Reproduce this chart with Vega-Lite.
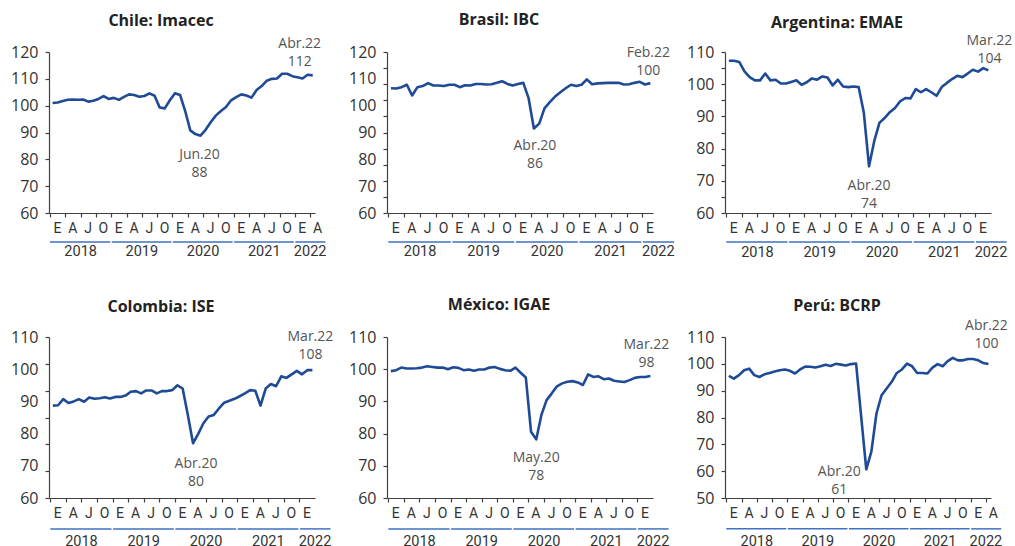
{
 "$schema": "https://vega.github.io/schema/vega-lite/v6.json",
 "padding": {"left": 10, "top": 12, "right": 0, "bottom": 0},
 "background": "white",
 "datasets": {
  "chile": [{"mes":0,"valor":101.0},{"mes":1,"valor":101.2},{"mes":2,"valor":101.7},{"mes":3,"valor":102.2},{"mes":4,"valor":102.3},{"mes":5,"valor":102.2},{"mes":6,"valor":102.3},{"mes":7,"valor":101.5},{"mes":8,"valor":101.8},{"mes":9,"valor":102.5},{"mes":10,"valor":103.6},{"mes":11,"valor":102.5},{"mes":12,"valor":102.9},{"mes":13,"valor":102.2},{"mes":14,"valor":103.3},{"mes":15,"valor":104.2},{"mes":16,"valor":104.0},{"mes":17,"valor":103.3},{"mes":18,"valor":103.6},{"mes":19,"valor":104.6},{"mes":20,"valor":103.7},{"mes":21,"valor":99.3},{"mes":22,"valor":99.0},{"mes":23,"valor":102.0},{"mes":24,"valor":104.6},{"mes":25,"valor":104.0},{"mes":26,"valor":98.0},{"mes":27,"valor":90.8},{"mes":28,"valor":89.4},{"mes":29,"valor":88.8},{"mes":30,"valor":91.0},{"mes":31,"valor":93.8},{"mes":32,"valor":96.3},{"mes":33,"valor":98.0},{"mes":34,"valor":99.5},{"mes":35,"valor":102.0},{"mes":36,"valor":103.2},{"mes":37,"valor":104.2},{"mes":38,"valor":103.8},{"mes":39,"valor":103.0},{"mes":40,"valor":105.8},{"mes":41,"valor":107.3},{"mes":42,"valor":109.3},{"mes":43,"valor":110.0},{"mes":44,"valor":110.1},{"mes":45,"valor":111.9},{"mes":46,"valor":111.9},{"mes":47,"valor":111.0},{"mes":48,"valor":110.6},{"mes":49,"valor":110.1},{"mes":50,"valor":111.5},{"mes":51,"valor":111.3}],
  "brasil": [{"mes":0,"valor":106.5},{"mes":1,"valor":106.4},{"mes":2,"valor":106.9},{"mes":3,"valor":107.8},{"mes":4,"valor":103.8},{"mes":5,"valor":106.9},{"mes":6,"valor":107.3},{"mes":7,"valor":108.4},{"mes":8,"valor":107.5},{"mes":9,"valor":107.5},{"mes":10,"valor":107.3},{"mes":11,"valor":107.8},{"mes":12,"valor":107.8},{"mes":13,"valor":106.9},{"mes":14,"valor":107.6},{"mes":15,"valor":107.5},{"mes":16,"valor":108.1},{"mes":17,"valor":108.1},{"mes":18,"valor":107.9},{"mes":19,"valor":108.0},{"mes":20,"valor":108.5},{"mes":21,"valor":109.1},{"mes":22,"valor":108.1},{"mes":23,"valor":107.5},{"mes":24,"valor":108.1},{"mes":25,"valor":108.5},{"mes":26,"valor":102.8},{"mes":27,"valor":91.5},{"mes":28,"valor":93.3},{"mes":29,"valor":99.0},{"mes":30,"valor":101.3},{"mes":31,"valor":103.4},{"mes":32,"valor":105.0},{"mes":33,"valor":106.5},{"mes":34,"valor":107.8},{"mes":35,"valor":107.3},{"mes":36,"valor":107.8},{"mes":37,"valor":109.8},{"mes":38,"valor":108.0},{"mes":39,"valor":108.3},{"mes":40,"valor":108.4},{"mes":41,"valor":108.5},{"mes":42,"valor":108.5},{"mes":43,"valor":108.5},{"mes":44,"valor":107.9},{"mes":45,"valor":108.0},{"mes":46,"valor":108.5},{"mes":47,"valor":108.9},{"mes":48,"valor":107.9},{"mes":49,"valor":108.4}],
  "argentina": [{"mes":0,"valor":107.3},{"mes":1,"valor":107.3},{"mes":2,"valor":106.9},{"mes":3,"valor":104.0},{"mes":4,"valor":102.2},{"mes":5,"valor":101.2},{"mes":6,"valor":101.2},{"mes":7,"valor":103.3},{"mes":8,"valor":101.2},{"mes":9,"valor":101.4},{"mes":10,"valor":100.2},{"mes":11,"valor":100.2},{"mes":12,"valor":100.7},{"mes":13,"valor":101.2},{"mes":14,"valor":99.8},{"mes":15,"valor":100.6},{"mes":16,"valor":101.8},{"mes":17,"valor":101.4},{"mes":18,"valor":102.4},{"mes":19,"valor":102.1},{"mes":20,"valor":99.6},{"mes":21,"valor":101.4},{"mes":22,"valor":99.3},{"mes":23,"valor":99.1},{"mes":24,"valor":99.3},{"mes":25,"valor":99.1},{"mes":26,"valor":91.1},{"mes":27,"valor":74.5},{"mes":28,"valor":82.3},{"mes":29,"valor":88.0},{"mes":30,"valor":89.5},{"mes":31,"valor":91.3},{"mes":32,"valor":92.6},{"mes":33,"valor":94.7},{"mes":34,"valor":95.7},{"mes":35,"valor":95.6},{"mes":36,"valor":98.5},{"mes":37,"valor":97.5},{"mes":38,"valor":98.5},{"mes":39,"valor":97.5},{"mes":40,"valor":96.4},{"mes":41,"valor":99.1},{"mes":42,"valor":100.4},{"mes":43,"valor":101.6},{"mes":44,"valor":102.6},{"mes":45,"valor":102.2},{"mes":46,"valor":103.3},{"mes":47,"valor":104.5},{"mes":48,"valor":103.9},{"mes":49,"valor":105.0},{"mes":50,"valor":104.3}],
  "colombia": [{"mes":0,"valor":88.7},{"mes":1,"valor":88.8},{"mes":2,"valor":90.7},{"mes":3,"valor":89.5},{"mes":4,"valor":90.0},{"mes":5,"valor":90.7},{"mes":6,"valor":89.9},{"mes":7,"valor":91.2},{"mes":8,"valor":90.8},{"mes":9,"valor":91.0},{"mes":10,"valor":91.3},{"mes":11,"valor":90.9},{"mes":12,"valor":91.4},{"mes":13,"valor":91.4},{"mes":14,"valor":91.8},{"mes":15,"valor":93.0},{"mes":16,"valor":93.2},{"mes":17,"valor":92.5},{"mes":18,"valor":93.4},{"mes":19,"valor":93.4},{"mes":20,"valor":92.5},{"mes":21,"valor":93.2},{"mes":22,"valor":93.2},{"mes":23,"valor":93.5},{"mes":24,"valor":95.0},{"mes":25,"valor":94.0},{"mes":26,"valor":85.8},{"mes":27,"valor":77.0},{"mes":28,"valor":79.9},{"mes":29,"valor":83.2},{"mes":30,"valor":85.3},{"mes":31,"valor":85.8},{"mes":32,"valor":87.8},{"mes":33,"valor":89.6},{"mes":34,"valor":90.2},{"mes":35,"valor":90.8},{"mes":36,"valor":91.6},{"mes":37,"valor":92.5},{"mes":38,"valor":93.5},{"mes":39,"valor":93.3},{"mes":40,"valor":88.7},{"mes":41,"valor":94.0},{"mes":42,"valor":95.4},{"mes":43,"valor":94.7},{"mes":44,"valor":97.8},{"mes":45,"valor":97.3},{"mes":46,"valor":98.4},{"mes":47,"valor":99.5},{"mes":48,"valor":98.4},{"mes":49,"valor":99.7},{"mes":50,"valor":99.7}],
  "mexico": [{"mes":0,"valor":99.4},{"mes":1,"valor":99.7},{"mes":2,"valor":100.5},{"mes":3,"valor":100.2},{"mes":4,"valor":100.2},{"mes":5,"valor":100.3},{"mes":6,"valor":100.5},{"mes":7,"valor":100.9},{"mes":8,"valor":100.7},{"mes":9,"valor":100.5},{"mes":10,"valor":100.5},{"mes":11,"valor":100.0},{"mes":12,"valor":100.6},{"mes":13,"valor":100.4},{"mes":14,"valor":99.7},{"mes":15,"valor":99.9},{"mes":16,"valor":99.5},{"mes":17,"valor":99.9},{"mes":18,"valor":99.9},{"mes":19,"valor":100.5},{"mes":20,"valor":100.7},{"mes":21,"valor":100.1},{"mes":22,"valor":99.7},{"mes":23,"valor":99.5},{"mes":24,"valor":100.5},{"mes":25,"valor":98.9},{"mes":26,"valor":97.4},{"mes":27,"valor":80.6},{"mes":28,"valor":78.2},{"mes":29,"valor":85.8},{"mes":30,"valor":90.4},{"mes":31,"valor":92.5},{"mes":32,"valor":94.7},{"mes":33,"valor":95.6},{"mes":34,"valor":96.1},{"mes":35,"valor":96.3},{"mes":36,"valor":95.9},{"mes":37,"valor":95.1},{"mes":38,"valor":98.4},{"mes":39,"valor":97.6},{"mes":40,"valor":97.8},{"mes":41,"valor":96.9},{"mes":42,"valor":97.1},{"mes":43,"valor":96.4},{"mes":44,"valor":96.2},{"mes":45,"valor":96.0},{"mes":46,"valor":96.6},{"mes":47,"valor":97.3},{"mes":48,"valor":97.6},{"mes":49,"valor":97.6},{"mes":50,"valor":97.9}],
  "peru": [{"mes":0,"valor":95.5},{"mes":1,"valor":94.5},{"mes":2,"valor":95.8},{"mes":3,"valor":97.6},{"mes":4,"valor":98.2},{"mes":5,"valor":95.8},{"mes":6,"valor":95.1},{"mes":7,"valor":96.1},{"mes":8,"valor":96.6},{"mes":9,"valor":97.1},{"mes":10,"valor":97.6},{"mes":11,"valor":97.9},{"mes":12,"valor":97.4},{"mes":13,"valor":96.4},{"mes":14,"valor":97.9},{"mes":15,"valor":99.0},{"mes":16,"valor":98.9},{"mes":17,"valor":98.6},{"mes":18,"valor":99.1},{"mes":19,"valor":99.7},{"mes":20,"valor":99.2},{"mes":21,"valor":100.0},{"mes":22,"valor":99.7},{"mes":23,"valor":99.4},{"mes":24,"valor":99.9},{"mes":25,"valor":100.1},{"mes":26,"valor":80.3},{"mes":27,"valor":60.7},{"mes":28,"valor":67.3},{"mes":29,"valor":81.5},{"mes":30,"valor":88.3},{"mes":31,"valor":90.8},{"mes":32,"valor":93.3},{"mes":33,"valor":96.6},{"mes":34,"valor":97.9},{"mes":35,"valor":100.1},{"mes":36,"valor":99.1},{"mes":37,"valor":96.6},{"mes":38,"valor":96.6},{"mes":39,"valor":96.4},{"mes":40,"valor":98.6},{"mes":41,"valor":99.9},{"mes":42,"valor":99.1},{"mes":43,"valor":101.0},{"mes":44,"valor":102.2},{"mes":45,"valor":101.3},{"mes":46,"valor":101.3},{"mes":47,"valor":101.8},{"mes":48,"valor":101.8},{"mes":49,"valor":101.3},{"mes":50,"valor":100.3},{"mes":51,"valor":99.9}],
  "anios": [{"anio":"2018","ini":-0.5,"fin":11.3,"centro":5.5},{"anio":"2019","ini":11.6,"fin":23.3,"centro":17.5},{"anio":"2020","ini":23.6,"fin":35.3,"centro":29.5},{"anio":"2021","ini":35.6,"fin":47.3,"centro":41.5},{"anio":"2022","ini":47.6,"fin":53.5,"centro":50.5}],
  "notas": [
   {"pais":"Chile","tipo":"sup","mes":51,"valor":111.3,"texto":"Abr.22\n112"},
   {"pais":"Chile","tipo":"inf","mes":29,"valor":88.8,"texto":"Jun.20\n88"},
   {"pais":"Brasil","tipo":"sup","mes":49,"valor":108.4,"texto":"Feb.22\n100"},
   {"pais":"Brasil","tipo":"inf","mes":27,"valor":91.5,"texto":"Abr.20\n86"},
   {"pais":"Argentina","tipo":"sup","mes":50,"valor":104.3,"texto":"Mar.22\n104"},
   {"pais":"Argentina","tipo":"inf","mes":27,"valor":74.5,"texto":"Abr.20\n74"},
   {"pais":"Colombia","tipo":"sup","mes":50,"valor":99.7,"texto":"Mar.22\n108"},
   {"pais":"Colombia","tipo":"inf","mes":27,"valor":77.0,"texto":"Abr.20\n80"},
   {"pais":"Mexico","tipo":"sup","mes":50,"valor":97.9,"texto":"Mar.22\n98"},
   {"pais":"Mexico","tipo":"inf","mes":28,"valor":78.2,"texto":"May.20\n78"},
   {"pais":"Peru","tipo":"sup","mes":51,"valor":99.9,"texto":"Abr.22\n100"},
   {"pais":"Peru","tipo":"inf","mes":27,"valor":60.7,"texto":"Abr.20\n61"}
  ]
 },
 "columns": 3,
 "spacing": {"row": 124, "column": 72},
 "bounds": "flush",
 "concat": [
  {
   "title": {"text": "Chile: Imacec", "offset": 8},
   "width": 266, "height": 161,
   "layer": [
    {"data": {"name": "chile"},
     "mark": {"type": "line", "color": "#1f4b96", "strokeWidth": 2.6, "strokeJoin": "round"},
     "encoding": {
      "x": {"field": "mes", "type": "quantitative", "scale": {"domain": [-0.7, 51.45], "nice": false, "zero": false},
            "axis": {"title": null, "tickCount": 100, "labelOverlap": false, "labelFlush": false, "values": [-0.5,2.5,5.5,8.5,11.5,14.5,17.5,20.5,23.5,26.5,29.5,32.5,35.5,38.5,41.5,44.5,47.5,50.5], "labelExpr": "['E','A','J','O'][round((datum.value + 0.5) / 3) % 4]"}},
      "y": {"field": "valor", "type": "quantitative", "scale": {"domain": [60, 120], "nice": false, "zero": false},
            "axis": {"title": null, "format": ".0f", "tickCount": 100, "labelOverlap": false, "labelFlush": false, "values": [60,70,80,90,100,110,120]}}
     }},
    {"data": {"name": "anios"},
     "mark": {"type": "rule", "color": "#3f72c2", "strokeWidth": 1.5},
     "encoding": {"x": {"field": "ini", "type": "quantitative", "title": null}, "x2": {"field": "fin"}, "y": {"datum": 49.2}}},
    {"data": {"name": "anios"},
     "mark": {"type": "text", "font": "Roboto", "fontSize": 14.5, "color": "#333333", "baseline": "middle"},
     "encoding": {"x": {"field": "centro", "type": "quantitative", "title": null}, "y": {"datum": 45.3}, "text": {"field": "anio"}}},
    {"data": {"name": "notas"}, "transform": [{"filter": "datum.pais == 'Chile' && datum.tipo == 'sup'"}],
     "mark": {"type": "text", "font": "Open Sans", "fontSize": 14, "color": "#555555", "baseline": "bottom", "lineBreak": "\n", "lineHeight": 18, "dx": -13, "dy": -24},
     "encoding": {"x": {"field": "mes", "type": "quantitative", "title": null}, "y": {"field": "valor", "type": "quantitative", "title": null}, "text": {"field": "texto"}}},
    {"data": {"name": "notas"}, "transform": [{"filter": "datum.pais == 'Chile' && datum.tipo == 'inf'"}],
     "mark": {"type": "text", "font": "Open Sans", "fontSize": 14, "color": "#555555", "baseline": "top", "lineBreak": "\n", "lineHeight": 18, "dx": -1, "dy": 12},
     "encoding": {"x": {"field": "mes", "type": "quantitative", "title": null}, "y": {"field": "valor", "type": "quantitative", "title": null}, "text": {"field": "texto"}}}
   ]
  },
  {
   "title": {"text": "Brasil: IBC", "offset": 16},
   "width": 266, "height": 161,
   "layer": [
    {"data": {"name": "brasil"},
     "mark": {"type": "line", "color": "#1f4b96", "strokeWidth": 2.6, "strokeJoin": "round"},
     "encoding": {
      "x": {"field": "mes", "type": "quantitative", "scale": {"domain": [-0.75, 49.5], "nice": false, "zero": false},
            "axis": {"title": null, "tickCount": 100, "labelOverlap": false, "labelFlush": false, "values": [-0.5,2.5,5.5,8.5,11.5,14.5,17.5,20.5,23.5,26.5,29.5,32.5,35.5,38.5,41.5,44.5,47.5], "labelExpr": "['E','A','J','O'][round((datum.value + 0.5) / 3) % 4]"}},
      "y": {"field": "valor", "type": "quantitative", "scale": {"domain": [60, 120], "nice": false, "zero": false},
            "axis": {"title": null, "format": ".0f", "tickCount": 100, "labelOverlap": false, "labelFlush": false, "values": [60,66,70,72,78,80,84,90,96,100,102,108,110,114,120],
                     "labelExpr": "datum.value % 10 == 0 ? datum.label : ''",
                     "tickOpacity": {"condition": {"test": "(datum.value - 60) % 6 == 0", "value": 1}, "value": 0}}}
     }},
    {"data": {"name": "anios"},
     "mark": {"type": "rule", "color": "#3f72c2", "strokeWidth": 1.5},
     "encoding": {"x": {"field": "ini", "type": "quantitative", "title": null}, "x2": {"field": "fin"}, "y": {"datum": 49.2}}},
    {"data": {"name": "anios"},
     "mark": {"type": "text", "font": "Roboto", "fontSize": 14.5, "color": "#333333", "baseline": "middle"},
     "encoding": {"x": {"field": "centro", "type": "quantitative", "title": null}, "y": {"datum": 45.3}, "text": {"field": "anio"}}},
    {"data": {"name": "notas"}, "transform": [{"filter": "datum.pais == 'Brasil' && datum.tipo == 'sup'"}],
     "mark": {"type": "text", "font": "Open Sans", "fontSize": 14, "color": "#555555", "baseline": "bottom", "lineBreak": "\n", "lineHeight": 18, "dx": -2, "dy": -23},
     "encoding": {"x": {"field": "mes", "type": "quantitative", "title": null}, "y": {"field": "valor", "type": "quantitative", "title": null}, "text": {"field": "texto"}}},
    {"data": {"name": "notas"}, "transform": [{"filter": "datum.pais == 'Brasil' && datum.tipo == 'inf'"}],
     "mark": {"type": "text", "font": "Open Sans", "fontSize": 14, "color": "#555555", "baseline": "top", "lineBreak": "\n", "lineHeight": 18, "dx": 1, "dy": 11},
     "encoding": {"x": {"field": "mes", "type": "quantitative", "title": null}, "y": {"field": "valor", "type": "quantitative", "title": null}, "text": {"field": "texto"}}}
   ]
  },
  {
   "title": {"text": "Argentina: EMAE", "offset": 3.5},
   "width": 266, "height": 161,
   "layer": [
    {"data": {"name": "argentina"},
     "mark": {"type": "line", "color": "#1f4b96", "strokeWidth": 2.6, "strokeJoin": "round"},
     "encoding": {
      "x": {"field": "mes", "type": "quantitative", "scale": {"domain": [-0.75, 50.5], "nice": false, "zero": false},
            "axis": {"title": null, "tickCount": 100, "labelOverlap": false, "labelFlush": false, "values": [-0.5,2.5,5.5,8.5,11.5,14.5,17.5,20.5,23.5,26.5,29.5,32.5,35.5,38.5,41.5,44.5,47.5], "labelExpr": "['E','A','J','O'][round((datum.value + 0.5) / 3) % 4]"}},
      "y": {"field": "valor", "type": "quantitative", "scale": {"domain": [60, 110], "nice": false, "zero": false},
            "axis": {"title": null, "format": ".0f", "tickCount": 100, "labelOverlap": false, "labelFlush": false, "values": [60,65,70,75,80,85,90,95,100,105,110], "labelExpr": "datum.value % 10 == 0 ? datum.label : ''"}}
     }},
    {"data": {"name": "anios"},
     "mark": {"type": "rule", "color": "#3f72c2", "strokeWidth": 1.5},
     "encoding": {"x": {"field": "ini", "type": "quantitative", "title": null}, "x2": {"field": "fin"}, "y": {"datum": 51.0}}},
    {"data": {"name": "anios"},
     "mark": {"type": "text", "font": "Roboto", "fontSize": 14.5, "color": "#333333", "baseline": "middle"},
     "encoding": {"x": {"field": "centro", "type": "quantitative", "title": null}, "y": {"datum": 47.7}, "text": {"field": "anio"}}},
    {"data": {"name": "notas"}, "transform": [{"filter": "datum.pais == 'Argentina' && datum.tipo == 'sup'"}],
     "mark": {"type": "text", "font": "Open Sans", "fontSize": 14, "color": "#555555", "baseline": "bottom", "lineBreak": "\n", "lineHeight": 18, "dx": 1, "dy": -22},
     "encoding": {"x": {"field": "mes", "type": "quantitative", "title": null}, "y": {"field": "valor", "type": "quantitative", "title": null}, "text": {"field": "texto"}}},
    {"data": {"name": "notas"}, "transform": [{"filter": "datum.pais == 'Argentina' && datum.tipo == 'inf'"}],
     "mark": {"type": "text", "font": "Open Sans", "fontSize": 14, "color": "#555555", "baseline": "top", "lineBreak": "\n", "lineHeight": 18, "dx": 0, "dy": 13},
     "encoding": {"x": {"field": "mes", "type": "quantitative", "title": null}, "y": {"field": "valor", "type": "quantitative", "title": null}, "text": {"field": "texto"}}}
   ]
  },
  {
   "title": {"text": "Colombia: ISE", "offset": 14.5},
   "width": 266, "height": 161,
   "layer": [
    {"data": {"name": "colombia"},
     "mark": {"type": "line", "color": "#1f4b96", "strokeWidth": 2.6, "strokeJoin": "round"},
     "encoding": {
      "x": {"field": "mes", "type": "quantitative", "scale": {"domain": [-0.75, 50.5], "nice": false, "zero": false},
            "axis": {"title": null, "tickCount": 100, "labelOverlap": false, "labelFlush": false, "values": [-0.5,2.5,5.5,8.5,11.5,14.5,17.5,20.5,23.5,26.5,29.5,32.5,35.5,38.5,41.5,44.5,47.5], "labelExpr": "['E','A','J','O'][round((datum.value + 0.5) / 3) % 4]"}},
      "y": {"field": "valor", "type": "quantitative", "scale": {"domain": [60, 110], "nice": false, "zero": false},
            "axis": {"title": null, "format": ".0f", "tickCount": 100, "labelOverlap": false, "labelFlush": false, "values": [60,68.3333,70,76.6667,80,85,90,93.3333,100,101.6667,110],
                     "labelExpr": "datum.value % 10 == 0 ? datum.label : ''",
                     "tickOpacity": {"condition": {"test": "datum.value % 10 != 0 || datum.value == 60 || datum.value == 110", "value": 1}, "value": 0}}}
     }},
    {"data": {"name": "anios"},
     "mark": {"type": "rule", "color": "#3f72c2", "strokeWidth": 1.5},
     "encoding": {"x": {"field": "ini", "type": "quantitative", "title": null}, "x2": {"field": "fin"}, "y": {"datum": 50.4}}},
    {"data": {"name": "anios"},
     "mark": {"type": "text", "font": "Roboto", "fontSize": 14.5, "color": "#333333", "baseline": "middle"},
     "encoding": {"x": {"field": "centro", "type": "quantitative", "title": null}, "y": {"datum": 46.2}, "text": {"field": "anio"}}},
    {"data": {"name": "notas"}, "transform": [{"filter": "datum.pais == 'Colombia' && datum.tipo == 'sup'"}],
     "mark": {"type": "text", "font": "Open Sans", "fontSize": 14, "color": "#555555", "baseline": "bottom", "lineBreak": "\n", "lineHeight": 18, "dx": -2, "dy": -26},
     "encoding": {"x": {"field": "mes", "type": "quantitative", "title": null}, "y": {"field": "valor", "type": "quantitative", "title": null}, "text": {"field": "texto"}}},
    {"data": {"name": "notas"}, "transform": [{"filter": "datum.pais == 'Colombia' && datum.tipo == 'inf'"}],
     "mark": {"type": "text", "font": "Open Sans", "fontSize": 14, "color": "#555555", "baseline": "top", "lineBreak": "\n", "lineHeight": 18, "dx": 3, "dy": 14},
     "encoding": {"x": {"field": "mes", "type": "quantitative", "title": null}, "y": {"field": "valor", "type": "quantitative", "title": null}, "text": {"field": "texto"}}}
   ]
  },
  {
   "title": {"text": "México: IGAE", "offset": 16},
   "width": 266, "height": 161,
   "layer": [
    {"data": {"name": "mexico"},
     "mark": {"type": "line", "color": "#1f4b96", "strokeWidth": 2.6, "strokeJoin": "round"},
     "encoding": {
      "x": {"field": "mes", "type": "quantitative", "scale": {"domain": [-0.75, 50.5], "nice": false, "zero": false},
            "axis": {"title": null, "tickCount": 100, "labelOverlap": false, "labelFlush": false, "values": [-0.5,2.5,5.5,8.5,11.5,14.5,17.5,20.5,23.5,26.5,29.5,32.5,35.5,38.5,41.5,44.5,47.5], "labelExpr": "['E','A','J','O'][round((datum.value + 0.5) / 3) % 4]"}},
      "y": {"field": "valor", "type": "quantitative", "scale": {"domain": [60, 110], "nice": false, "zero": false},
            "axis": {"title": null, "format": ".0f", "tickCount": 100, "labelOverlap": false, "labelFlush": false, "values": [60,70,80,90,100,110]}}
     }},
    {"data": {"name": "anios"},
     "mark": {"type": "rule", "color": "#3f72c2", "strokeWidth": 1.5},
     "encoding": {"x": {"field": "ini", "type": "quantitative", "title": null}, "x2": {"field": "fin"}, "y": {"datum": 50.4}}},
    {"data": {"name": "anios"},
     "mark": {"type": "text", "font": "Roboto", "fontSize": 14.5, "color": "#333333", "baseline": "middle"},
     "encoding": {"x": {"field": "centro", "type": "quantitative", "title": null}, "y": {"datum": 46.2}, "text": {"field": "anio"}}},
    {"data": {"name": "notas"}, "transform": [{"filter": "datum.pais == 'Mexico' && datum.tipo == 'sup'"}],
     "mark": {"type": "text", "font": "Open Sans", "fontSize": 14, "color": "#555555", "baseline": "bottom", "lineBreak": "\n", "lineHeight": 18, "dx": -4, "dy": -24},
     "encoding": {"x": {"field": "mes", "type": "quantitative", "title": null}, "y": {"field": "valor", "type": "quantitative", "title": null}, "text": {"field": "texto"}}},
    {"data": {"name": "notas"}, "transform": [{"filter": "datum.pais == 'Mexico' && datum.tipo == 'inf'"}],
     "mark": {"type": "text", "font": "Open Sans", "fontSize": 14, "color": "#555555", "baseline": "top", "lineBreak": "\n", "lineHeight": 18, "dx": 0, "dy": 12},
     "encoding": {"x": {"field": "mes", "type": "quantitative", "title": null}, "y": {"field": "valor", "type": "quantitative", "title": null}, "text": {"field": "texto"}}}
   ]
  },
  {
   "title": {"text": "Perú: BCRP", "offset": 5.5},
   "width": 266, "height": 161,
   "layer": [
    {"data": {"name": "peru"},
     "mark": {"type": "line", "color": "#1f4b96", "strokeWidth": 2.6, "strokeJoin": "round"},
     "encoding": {
      "x": {"field": "mes", "type": "quantitative", "scale": {"domain": [-0.75, 51.5], "nice": false, "zero": false},
            "axis": {"title": null, "tickCount": 100, "labelOverlap": false, "labelFlush": false, "values": [-0.5,2.5,5.5,8.5,11.5,14.5,17.5,20.5,23.5,26.5,29.5,32.5,35.5,38.5,41.5,44.5,47.5,50.5], "labelExpr": "['E','A','J','O'][round((datum.value + 0.5) / 3) % 4]"}},
      "y": {"field": "valor", "type": "quantitative", "scale": {"domain": [50, 110], "nice": false, "zero": false},
            "axis": {"title": null, "format": ".0f", "tickCount": 100, "labelOverlap": false, "labelFlush": false, "values": [50,60,70,80,90,100,110]}}
     }},
    {"data": {"name": "anios"},
     "mark": {"type": "rule", "color": "#3f72c2", "strokeWidth": 1.5},
     "encoding": {"x": {"field": "ini", "type": "quantitative", "title": null}, "x2": {"field": "fin"}, "y": {"datum": 38.5}}},
    {"data": {"name": "anios"},
     "mark": {"type": "text", "font": "Roboto", "fontSize": 14.5, "color": "#333333", "baseline": "middle"},
     "encoding": {"x": {"field": "centro", "type": "quantitative", "title": null}, "y": {"datum": 33.6}, "text": {"field": "anio"}}},
    {"data": {"name": "notas"}, "transform": [{"filter": "datum.pais == 'Peru' && datum.tipo == 'sup'"}],
     "mark": {"type": "text", "font": "Open Sans", "fontSize": 14, "color": "#555555", "baseline": "bottom", "lineBreak": "\n", "lineHeight": 18, "dx": -2, "dy": -31},
     "encoding": {"x": {"field": "mes", "type": "quantitative", "title": null}, "y": {"field": "valor", "type": "quantitative", "title": null}, "text": {"field": "texto"}}},
    {"data": {"name": "notas"}, "transform": [{"filter": "datum.pais == 'Peru' && datum.tipo == 'inf'"}],
     "mark": {"type": "text", "font": "Open Sans", "fontSize": 14, "color": "#555555", "baseline": "top", "lineBreak": "\n", "lineHeight": 18, "dx": -27, "dy": -4},
     "encoding": {"x": {"field": "mes", "type": "quantitative", "title": null}, "y": {"field": "valor", "type": "quantitative", "title": null}, "text": {"field": "texto"}}}
   ]
  }
 ],
 "config": {
  "view": {"stroke": null},
  "axis": {"grid": false, "domainColor": "#404040", "tickColor": "#404040", "labelColor": "#333333", "labelFont": "Open Sans", "labelFlush": false, "labelOverlap": false, "domainWidth": 1.2, "tickWidth": 1.2},
  "axisX": {"tickSize": 4, "labelFontSize": 14, "labelPadding": 4, "labelOffset": 7, "labelFont": "Roboto"},
  "axisY": {"tickSize": 4, "labelFontSize": 16, "labelPadding": 7},
  "title": {"font": "Open Sans", "fontSize": 16, "fontWeight": "bold", "color": "#222222", "anchor": "middle", "frame": "group", "dx": -21}
 }
}
